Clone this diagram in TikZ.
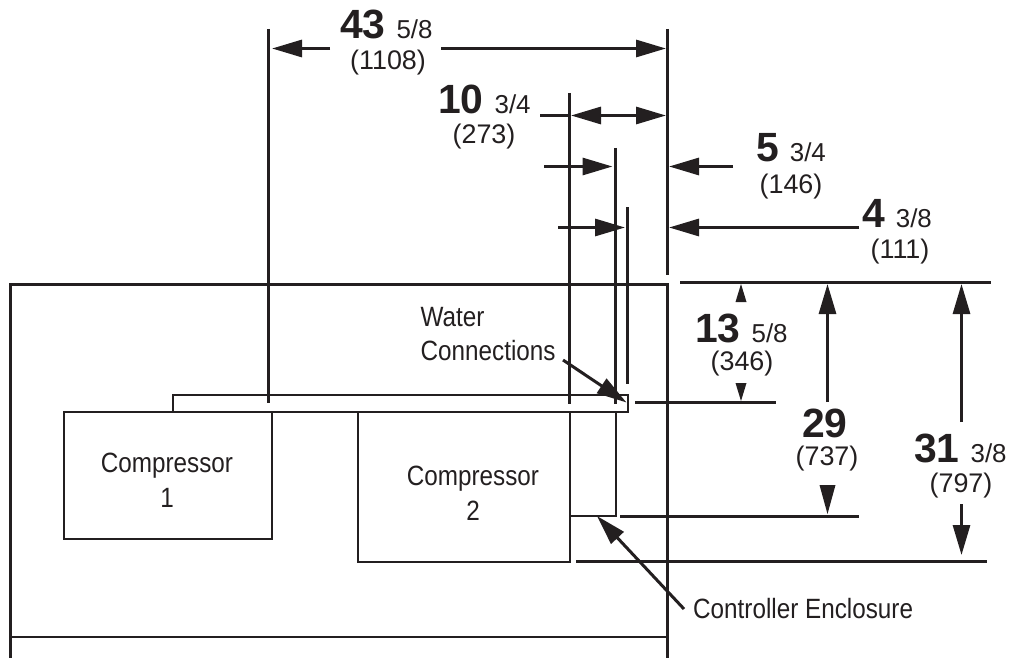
\documentclass[tikz,border=0pt]{standalone}
\usepackage{fontspec}
\usetikzlibrary{arrows.meta}
\setmainfont{Liberation Sans}
\newfontfamily\lblfont[FakeStretch=0.87]{Liberation Sans}
\definecolor{ink}{HTML}{231F20}
\newcommand{\dimtext}[2]{{\fontsize{41}{41}\selectfont\bfseries #1}\hspace{11pt}{\fontsize{26}{26}\selectfont #2}}
\tikzset{
    outline/.style={draw=ink, line width=3bp},
    thinbox/.style={draw=ink, line width=2bp, minimum width=#1, inner sep=0pt, anchor=north west},
    extline/.style={draw=ink, line width=3bp},
    dimline/.style={draw=ink, line width=3bp},
    bighead/.style={-{Triangle[length=30bp,width=17bp]}},
    dimnum/.style={text=ink, anchor=base west, inner sep=0pt},
    metric/.style={text=ink, font=\fontsize{27}{27}\selectfont, inner sep=0pt},
    lbl/.style={text=ink, font=\lblfont\fontsize{28}{35}\selectfont, inner sep=0pt}
}
\begin{document}
\begin{tikzpicture}[x=1bp, y=-1bp]
    \useasboundingbox (0,0) rectangle (1016,658);

    % cabinet
    \draw[outline] (10.5,658) |- (667.5,284.5) -- (667.5,658);
    \draw[draw=ink, line width=2bp] (10,637) -- (667,637);

    % inner boxes
    \node[thinbox=208bp, minimum height=127bp] (comp1) at (63,411) {};
    \node[thinbox=212bp, minimum height=150bp] (comp2) at (357,411) {};
    \node[thinbox=46bp, minimum height=104bp] (ctrl) at (569,411) {};
    \node[thinbox=455bp, minimum height=17bp] (strip) at (172,394) {};

    % box labels
    \node[lbl, align=center] (comp1txt) at (167,480) {Compressor\\1};
    \node[lbl, align=center] (comp2txt) at (473,493) {Compressor\\2};
    \node[lbl, align=left, anchor=west] (watertxt) at (420.5,334) {Water\\Connections};
    \node[lbl, anchor=west] (ctrltxt) at (693,609) {Controller Enclosure};

    % extension lines, vertical
    \coordinate (ea0) at (268.5,29);  \coordinate (ea1) at (268.5,403);
    \coordinate (eb0) at (569.5,93);  \coordinate (eb1) at (569.5,404);
    \coordinate (ec0) at (615.5,148); \coordinate (ec1) at (615.5,404);
    \coordinate (ed0) at (627.5,207); \coordinate (ed1) at (627.5,384);
    \coordinate (ee0) at (667.5,29);  \coordinate (ee1) at (667.5,275);
    \foreach \n in {a,b,c,d,e}
        \draw[extline] (e\n0) -- (e\n1);

    % extension lines, horizontal
    \coordinate (fa0) at (680,282.5); \coordinate (fa1) at (991,282.5);
    \coordinate (fb0) at (635,402.5); \coordinate (fb1) at (776,402.5);
    \coordinate (fc0) at (620,516.5); \coordinate (fc1) at (859,516.5);
    \coordinate (fd0) at (576,561.5); \coordinate (fd1) at (987,561.5);
    \foreach \n in {a,b,c,d}
        \draw[extline] (f\n0) -- (f\n1);

    % 43 5/8
    \node[dimnum] (d43) at (340,39) {\dimtext{43}{5/8}};
    \node[metric] (m43) at (388,63) {(1108)};
    \coordinate (t43a) at (330,48.5); \coordinate (h43a) at (272,48.5);
    \coordinate (t43b) at (441,48.5); \coordinate (h43b) at (666,48.5);
    \draw[dimline, bighead] (t43a) -- (h43a);
    \draw[dimline, bighead] (t43b) -- (h43b);

    % 10 3/4
    \node[dimnum] (d10) at (438,114) {\dimtext{10}{3/4}};
    \node[metric] (m10) at (484,137) {(273)};
    \coordinate (t10) at (540,115.5); \coordinate (h10a) at (571,115.5);
    \coordinate (h10b) at (666,115.5);
    \draw[dimline] (t10) -- (h10a);
    \draw[dimline, {Triangle[length=30bp,width=17bp]}-{Triangle[length=30bp,width=17bp]}] (h10a) -- (h10b);

    % 5 3/4
    \node[dimnum] (d5) at (756,162) {\dimtext{5}{3/4}};
    \node[metric] (m5) at (791,187) {(146)};
    \coordinate (t5a) at (544,166.5); \coordinate (h5a) at (612.5,166.5);
    \coordinate (t5b) at (733,166.5); \coordinate (h5b) at (669,166.5);
    \draw[dimline, bighead] (t5a) -- (h5a);
    \draw[dimline, bighead] (t5b) -- (h5b);

    % 4 3/8
    \node[dimnum] (d4) at (862,227) {\dimtext{4}{3/8}};
    \node[metric] (m4) at (900,252) {(111)};
    \coordinate (t4a) at (859,227.5); \coordinate (h4a) at (669,227.5);
    \coordinate (t4b) at (558,227.5); \coordinate (h4b) at (625,227.5);
    \draw[dimline, bighead] (t4a) -- (h4a);
    \draw[dimline, bighead] (t4b) -- (h4b);

    % 13 5/8
    \node[dimnum] (d13) at (695,342) {\dimtext{13}{5/8}};
    \node[metric] (m13) at (742,364) {(346)};
    \coordinate (h13a) at (741,284);
    \coordinate (h13b) at (741,401);
    \draw[draw=none, fill=ink] (h13a) -- ++(5.5,18) -- ++(-11,0) -- cycle;
    \draw[draw=none, fill=ink] (h13b) -- ++(5.5,-18) -- ++(-11,0) -- cycle;

    % 29
    \node[dimnum] (d29) at (802,437) {\dimtext{29}{}};
    \node[metric] (m29) at (827,459) {(737)};
    \coordinate (t29a) at (827.5,402); \coordinate (h29a) at (827.5,284);
    \coordinate (h29b) at (827.5,514);
    \draw[dimline, bighead] (t29a) -- (h29a);
    \draw[draw=none, fill=ink] (h29b) -- ++(8,-29) -- ++(-16,0) -- cycle;

    % 31 3/8
    \node[dimnum] (d31) at (914,462) {\dimtext{31}{3/8}};
    \node[metric] (m31) at (961,486) {(797)};
    \coordinate (t31a) at (961.5,422); \coordinate (h31a) at (961.5,284);
    \coordinate (t31b) at (961.5,504); \coordinate (h31b) at (961.5,555);
    \draw[dimline, bighead] (t31a) -- (h31a);
    \draw[dimline, bighead] (t31b) -- (h31b);

    % leaders
    \coordinate (waterend) at (563,360); \coordinate (watertip) at (626.5,402.5);
    \coordinate (ctrlend) at (684,609);  \coordinate (ctrltip) at (597,516);
    \draw[dimline, bighead] (waterend) -- (watertip);
    \draw[dimline, bighead] (ctrlend) -- (ctrltip);
\end{tikzpicture}
\end{document}
